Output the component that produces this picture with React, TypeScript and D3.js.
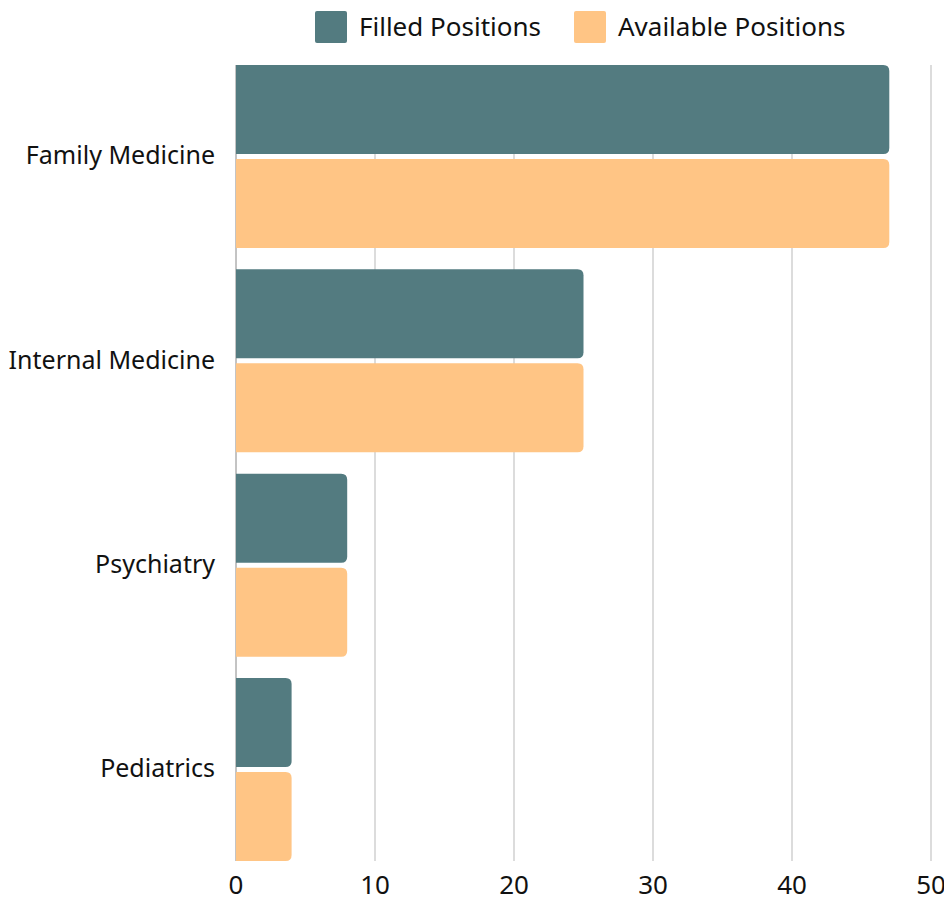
import React, { useEffect, useRef } from "react";
import * as d3 from "d3";

const categories = ["Family Medicine", "Internal Medicine", "Psychiatry", "Pediatrics"];
const seriesNames = ["Filled Positions", "Available Positions"];
const filledPositions = [47, 25, 8, 4];
const availablePositions = [47, 25, 8, 4];
const xTicks = [0, 10, 20, 30, 40, 50];
const colors = ["#537b80", "#ffc585"];

const FONT = "'Noto Sans', 'Open Sans', sans-serif";

// bar with square left edge and rounded right corners
const barPath = (x: number, y: number, w: number, h: number, r: number) => {
  const rr = Math.min(r, w / 2, h / 2);
  return `M${x},${y}H${x + w - rr}Q${x + w},${y} ${x + w},${y + rr}V${y + h - rr}Q${x + w},${y + h} ${x + w - rr},${y + h}H${x}Z`;
};

const App = () => {
  const ref = useRef<SVGSVGElement>(null);

  useEffect(() => {
    const svg = d3.select(ref.current);
    svg.selectAll("*").remove();

    const left = 236, right = 931, top = 65, bottom = 861;

    const x = d3.scaleLinear().domain([0, 50]).range([left, right]);
    const y0 = d3.scaleBand().domain(categories).range([top, bottom]).paddingInner(0.105).paddingOuter(0);
    const y1 = d3.scaleBand().domain(seriesNames).range([0, y0.bandwidth()]).paddingInner(0.053);

    // grid
    svg.append("g")
      .selectAll("line")
      .data(xTicks.filter(d => d > 0))
      .enter().append("line")
      .attr("x1", d => x(d)).attr("x2", d => x(d))
      .attr("y1", top).attr("y2", bottom)
      .attr("stroke", "#d0d0d0")
      .attr("stroke-width", 1.5);

    // left axis line
    svg.append("line")
      .attr("x1", left).attr("x2", left)
      .attr("y1", top).attr("y2", bottom)
      .attr("stroke", "#888")
      .attr("stroke-width", 1);

    const values = [filledPositions, availablePositions];
    categories.forEach((c, i) => {
      seriesNames.forEach((s, j) => {
        const v = values[j][i];
        svg.append("path")
          .attr("d", barPath(x(0), y0(c)! + y1(s)!, x(v) - x(0), y1.bandwidth(), 6))
          .attr("fill", colors[j]);
      });
    });

    // category labels
    svg.append("g")
      .selectAll("text")
      .data(categories)
      .enter().append("text")
      .attr("x", left - 21)
      .attr("y", d => y0(d)! + y0.bandwidth() / 2 - 1)
      .attr("dy", "0.35em")
      .attr("text-anchor", "end")
      .attr("font-family", FONT)
      .attr("font-size", 25)
      .attr("fill", "#111")
      .text(d => d);

    // x tick labels
    svg.append("g")
      .selectAll("text")
      .data(xTicks)
      .enter().append("text")
      .attr("x", d => x(d))
      .attr("y", 885)
      .attr("dy", "0.35em")
      .attr("text-anchor", "middle")
      .attr("font-family", FONT)
      .attr("font-size", 26)
      .attr("fill", "#111")
      .text(d => d);

    // legend
    const legendX = [315, 574];
    seriesNames.forEach((s, j) => {
      svg.append("rect")
        .attr("x", legendX[j]).attr("y", 11)
        .attr("width", 32).attr("height", 32)
        .attr("rx", 2)
        .attr("fill", colors[j]);
      svg.append("text")
        .attr("x", legendX[j] + 44)
        .attr("y", 27)
        .attr("dy", "0.35em")
        .attr("font-family", FONT)
        .attr("font-size", 26)
        .attr("fill", "#111")
        .text(s);
    });
  }, []);

  return (
    <div style={{ position: "absolute", left: 0, top: 0 }}>
      <svg ref={ref} width={944} height={899} style={{ display: "block" }} />
    </div>
  );
};

export default App;
